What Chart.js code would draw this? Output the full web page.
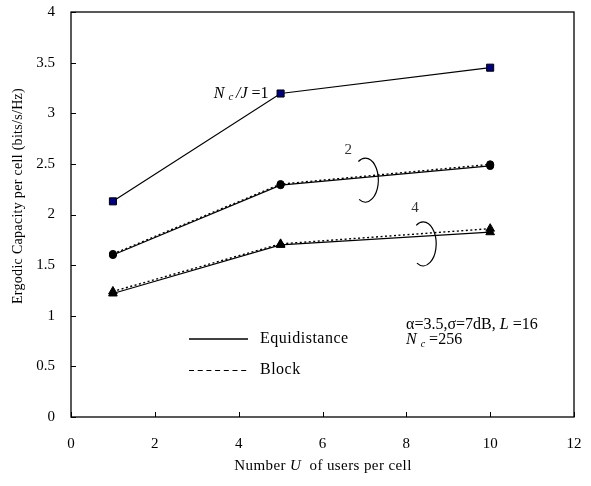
<!DOCTYPE html>
<html>
<head>
<meta charset="utf-8">
<script src="https://cdn.jsdelivr.net/npm/chart.js@4.4.0/dist/chart.umd.min.js"></script>
<style>
    html, body { margin: 0; padding: 0; background: #fff; }
    #wrap { width: 591px; height: 486px; }
</style>
</head>
<body>
<div id="wrap"><canvas id="myChart" width="591" height="486"></canvas></div>
<script>
"use strict";

// users per cell
var users = [1, 5, 10];
// ergodic capacity (bits/s/Hz)
var equiJ1 = [2.13, 3.195, 3.45];
var equiJ2 = [1.60, 2.29, 2.48];
var blockJ2 = [1.61, 2.30, 2.495];
var equiJ4 = [1.22, 1.70, 1.825];
var blockJ4 = [1.24, 1.71, 1.86];
var xTicks = [0, 2, 4, 6, 8, 10, 12];
var yTicks = [0, 0.5, 1, 1.5, 2, 2.5, 3, 3.5, 4];

var FONT = '"Liberation Serif", "Times New Roman", serif';

function toPoints(ys) {
    return users.map(function (u, i) { return { x: u, y: ys[i] }; });
}

function line(ys, marker, fill, dashed) {
    return {
        data: toPoints(ys),
        borderColor: '#000',
        borderWidth: dashed ? 1.4 : 1.2,
        borderDash: dashed ? [2, 2.5] : [],
        pointStyle: marker,
        pointRadius: marker === 'triangle' ? 5 : (marker === 'rect' ? 5 : 3.6),
        pointBackgroundColor: fill,
        pointBorderColor: '#000',
        pointBorderWidth: 1,
        tension: 0,
        fill: false
    };
}

// draws text pieces left to right: [text, font, dy]
function runs(ctx, x, y, parts) {
    parts.forEach(function (p) {
        ctx.font = p[1];
        ctx.fillText(p[0], x, y + (p[2] || 0));
        x += ctx.measureText(p[0]).width;
    });
    return x;
}

// inward ticks, frame, legend and labels
var decor = {
    id: 'decor',
    afterDraw: function (chart) {
        var ctx = chart.ctx;
        var a = chart.chartArea;
        var xs = chart.scales.x, ys = chart.scales.y;
        ctx.save();
        ctx.strokeStyle = '#000';
        ctx.lineWidth = 1.3;
        ctx.strokeRect(a.left, a.top, a.right - a.left, a.bottom - a.top);
        ctx.lineWidth = 1;
        ctx.beginPath();
        xTicks.forEach(function (v) {
            var px = Math.round(xs.getPixelForValue(v)) + 0.5;
            ctx.moveTo(px, a.bottom); ctx.lineTo(px, a.bottom - 5);
        });
        yTicks.forEach(function (v) {
            var py = Math.round(ys.getPixelForValue(v)) + 0.5;
            ctx.moveTo(a.left, py); ctx.lineTo(a.left + 5, py);
        });
        ctx.stroke();

        // legend
        ctx.lineWidth = 1.5;
        ctx.beginPath();
        ctx.moveTo(189, 339); ctx.lineTo(248, 339);
        ctx.stroke();
        ctx.lineWidth = 1;
        ctx.setLineDash([5, 3.7]);
        ctx.beginPath();
        ctx.moveTo(189, 370.5); ctx.lineTo(248, 370.5);
        ctx.stroke();
        ctx.setLineDash([]);

        ctx.fillStyle = '#000';
        ctx.textBaseline = 'middle';
        ctx.textAlign = 'left';
        ctx.letterSpacing = '0.5px';
        ctx.font = '16px ' + FONT;
        ctx.fillText('Equidistance', 260, 339);
        ctx.fillText('Block', 260, 370);
        ctx.letterSpacing = '0px';

        // curve labels
        ctx.font = '15px ' + FONT;
        ctx.fillStyle = '#333';
        ctx.fillText('2', xs.getPixelForValue(6.62) - 4, ys.getPixelForValue(2.64));
        ctx.fillText('4', xs.getPixelForValue(8.21) - 4, ys.getPixelForValue(2.06));
        ctx.fillStyle = '#000';

        // N_c/J = 1, right aligned before the x=5 marker
        var nx = xs.getPixelForValue(5) - 12;
        var ny = ys.getPixelForValue(3.195);
        var I15 = 'italic 16px ' + FONT, R15 = '16px ' + FONT, I10 = 'italic 11px ' + FONT;
        ctx.font = I15; var w = ctx.measureText('N ').width;
        ctx.font = I10; w += ctx.measureText('c ').width;
        ctx.font = I15; w += ctx.measureText('/J ').width;
        ctx.font = R15; w += ctx.measureText('=1').width;
        runs(ctx, nx - w, ny, [['N ', I15], ['c ', I10, 4], ['/J ', I15], ['=1', R15]]);

        // parameters
        var R16 = '16px ' + FONT, I16 = 'italic 16px ' + FONT;
        runs(ctx, 406, 325, [['\u03b1=3.5,\u03c3=7dB, ', R16], ['L ', I16], ['=16', R16]]);
        runs(ctx, 406, 340, [['N ', I16], ['c', 'italic 10px ' + FONT, 4], [' =256', R16]]);

        // axis titles
        ctx.textAlign = 'left';
        ctx.letterSpacing = '0.4px';
        var R14 = '15px ' + FONT, I14 = 'italic 15px ' + FONT;
        var parts = [['Number ', R14], ['U ', I14], [' of users per cell', R14]];
        var tw = 0;
        parts.forEach(function (p) { ctx.font = p[1]; tw += ctx.measureText(p[0]).width; });
        runs(ctx, 323 - tw / 2, 466, parts);

        ctx.translate(18, 196);
        ctx.rotate(-Math.PI / 2);
        ctx.textAlign = 'center';
        ctx.font = '14px ' + FONT;
        ctx.letterSpacing = '0.3px';
        ctx.fillText('Ergodic Capacity per cell (bits/s/Hz)', 0, 0);
        ctx.setTransform(1, 0, 0, 1, 0, 0);
        ctx.letterSpacing = '0px';

        // loops around curve groups
        ctx.lineWidth = 1.2;
        [[7.07, 2.34], [8.45, 1.71]].forEach(function (c) {
            var cx = xs.getPixelForValue(c[0]);
            var cy = ys.getPixelForValue(c[1]);
            ctx.beginPath();
            ctx.ellipse(cx - 2, cy, 13, 22, 0, -0.68 * Math.PI, 0.66 * Math.PI);
            ctx.stroke();
        });

        ctx.restore();
    }
};

var $Chart = document.getElementById('myChart');

var capChart = new Chart($Chart, {
    type: 'line',
    data: {
        datasets: [
            line(equiJ1, 'rect', '#000080', false),
            line(equiJ2, 'circle', '#000', false),
            line(blockJ2, 'circle', '#000', true),
            line(equiJ4, 'triangle', '#000', false),
            line(blockJ4, 'triangle', '#000', true)
        ]
    },
    plugins: [decor],
    options: {
        responsive: false,
        animation: false,
        layout: { padding: { top: 12, right: 17, left: 0, bottom: 0 } },
        plugins: {
            legend: { display: false },
            tooltip: { enabled: false }
        },
        scales: {
            x: {
                type: 'linear',
                min: 0,
                max: 12,
                afterBuildTicks: function (s) { s.ticks = xTicks.map(function (v) { return { value: v }; }); },
                afterFit: function (s) {
                    s.height = 69;
                    s.paddingLeft = 0;
                    s.paddingRight = 0;
                },
                grid: { display: false },
                border: { display: false },
                ticks: {
                    color: '#000', padding: 10, maxRotation: 0,
                    font: { family: FONT, size: 15 },
                    callback: function (v) { return String(v); }
                }
            },
            y: {
                min: 0,
                max: 4,
                afterBuildTicks: function (s) { s.ticks = yTicks.map(function (v) { return { value: v }; }); },
                afterFit: function (s) {
                    s.width = 71;
                    s.paddingTop = 0;
                    s.paddingBottom = 0;
                },
                grid: { display: false },
                border: { display: false },
                ticks: {
                    color: '#000', padding: 8,
                    font: { family: FONT, size: 15 },
                    callback: function (v) { return String(v); }
                }
            }
        }
    }
});
</script>
</body>
</html>
